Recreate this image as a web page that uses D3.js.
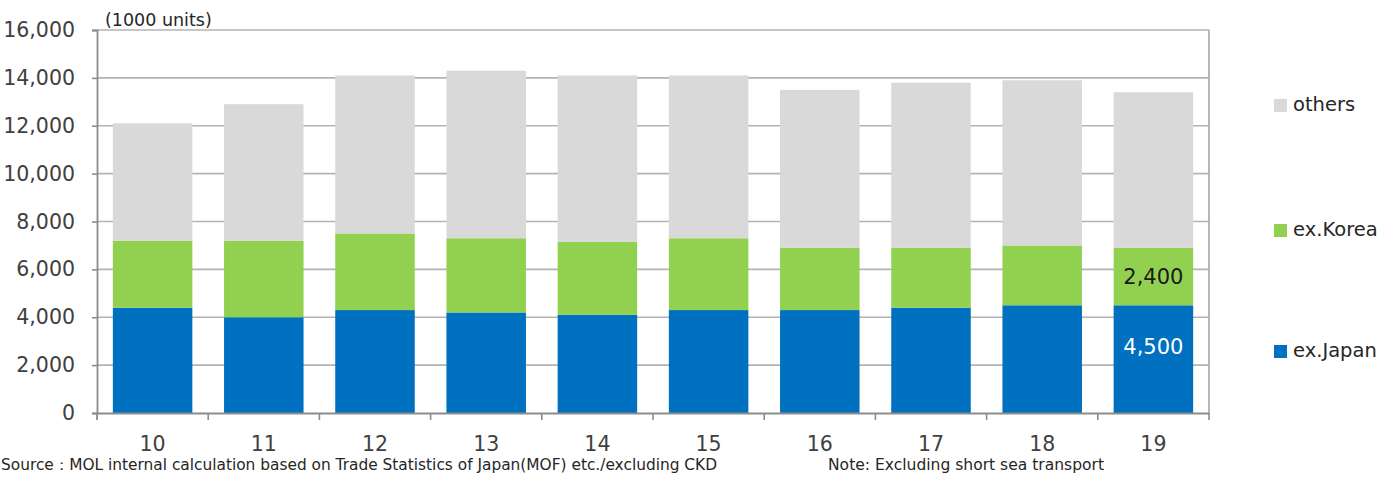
<!DOCTYPE html>
<html>
<head>
<meta charset="utf-8">
<script src="https://cdn.jsdelivr.net/npm/d3@7/dist/d3.min.js"></script>
<style>
  html, body { margin: 0; padding: 0; background: #fff; }
  svg { display: block; }
  text { font-family: "DejaVu Sans", Verdana, sans-serif; }
</style>
</head>
<body>
<svg id="chart" width="1397" height="477"></svg>
<script>
// Years (fiscal, two-digit)
const categories = ["10", "11", "12", "13", "14", "15", "16", "17", "18", "19"];
// Volumes in 1000 units
const exJapan = [4400, 4000, 4300, 4200, 4100, 4300, 4300, 4400, 4500, 4500];
const exKorea = [2800, 3200, 3200, 3100, 3050, 3000, 2600, 2500, 2500, 2400];
const others  = [4900, 5700, 6600, 7000, 6950, 6800, 6600, 6900, 6900, 6500];
const yTicks = [0, 2000, 4000, 6000, 8000, 10000, 12000, 14000, 16000];
const seriesNames = ["ex.Japan", "ex.Korea", "others"];
const seriesColors = ["#0070C0", "#92D050", "#D9D9D9"];

(function () {
const svg = d3.select("#chart");
const plotLeft = 97, plotRight = 1209, plotTop = 30, plotBottom = 413;

const x = d3.scaleBand().domain(categories).range([plotLeft, plotRight]).paddingInner(0.285).paddingOuter(0.1425);
const xEdge = d3.scaleBand().domain(categories).range([plotLeft, plotRight]);
const y = d3.scaleLinear().domain([0, 16000]).range([plotBottom, plotTop]);

// gridlines
svg.append("g").selectAll("line").data(yTicks.filter(t => t > 0)).join("line")
  .attr("x1", plotLeft).attr("x2", plotRight)
  .attr("y1", d => y(d)).attr("y2", d => y(d))
  .attr("stroke", "#b3b3b3").attr("stroke-width", 1.6);
// right border
svg.append("line").attr("x1", plotRight).attr("x2", plotRight).attr("y1", plotTop).attr("y2", plotBottom)
  .attr("stroke", "#a6a6a6").attr("stroke-width", 1.6);

// stacked bars
const rows = categories.map((c, i) => ({ cat: c, "ex.Japan": exJapan[i], "ex.Korea": exKorea[i], "others": others[i] }));
const stack = d3.stack().keys(seriesNames)(rows);
svg.append("g").selectAll("g").data(stack).join("g")
  .attr("fill", (d, i) => seriesColors[i])
  .selectAll("rect").data(d => d).join("rect")
  .attr("x", d => x(d.data.cat))
  .attr("width", x.bandwidth())
  .attr("y", d => y(d[1]))
  .attr("height", d => y(d[0]) - y(d[1]));

// left axis
const yAxis = svg.append("g").attr("transform", `translate(${plotLeft},0)`)
  .call(d3.axisLeft(y).tickValues(yTicks).tickFormat(d3.format(",")).tickSize(5).tickPadding(17));
yAxis.select(".domain").attr("stroke", "#8c8c8c").attr("stroke-width", 1.8);
yAxis.selectAll(".tick line").attr("stroke", "#8c8c8c").attr("stroke-width", 1.6);
yAxis.selectAll("text").attr("font-size", 20.5).attr("fill", "#404040")
  .attr("font-family", "DejaVu Sans, sans-serif");

// bottom axis with ticks at category boundaries
const xAxis = svg.append("g").attr("transform", `translate(0,${plotBottom})`)
  .call(d3.axisBottom(x).tickSize(0).tickPadding(23));
xAxis.select(".domain").attr("stroke", "#8c8c8c").attr("stroke-width", 1.8);
xAxis.selectAll("text").attr("font-size", 20.5).attr("fill", "#404040")
  .attr("font-family", "DejaVu Sans, sans-serif");
xAxis.append("g").selectAll("line").data(categories.slice(1).map(c => xEdge(c)).concat([plotRight])).join("line")
  .attr("x1", d => d).attr("x2", d => d).attr("y1", 0).attr("y2", 7)
  .attr("stroke", "#8c8c8c").attr("stroke-width", 1.6);
xAxis.append("line").attr("x1", plotLeft).attr("x2", plotLeft).attr("y1", 0).attr("y2", 7)
  .attr("stroke", "#8c8c8c").attr("stroke-width", 1.8);

// unit label
svg.append("text").attr("x", 105).attr("y", 26).attr("font-size", 17.5).attr("fill", "#262626")
  .text("(1000 units)");

// value labels on the last bar
const last = categories.length - 1;
const lastX = x(categories[last]) + x.bandwidth() / 2;
svg.append("text").attr("x", lastX).attr("y", y(exJapan[last] + exKorea[last] / 2)).attr("dy", "0.36em")
  .attr("text-anchor", "middle").attr("font-size", 21).attr("fill", "#1a1a1a")
  .text(d3.format(",")(exKorea[last]));
svg.append("text").attr("x", lastX).attr("y", y(exJapan[last] / 2) - 13).attr("dy", "0.36em")
  .attr("text-anchor", "middle").attr("font-size", 21).attr("fill", "#ffffff")
  .text(d3.format(",")(exJapan[last]));

// legend
const legendY = { "others": 104, "ex.Korea": 229, "ex.Japan": 350 };
const legend = svg.append("g");
seriesNames.forEach((name, i) => {
  const g = legend.append("g").attr("transform", `translate(1274,${legendY[name]})`);
  g.append("rect").attr("x", 0).attr("y", -5).attr("width", 13).attr("height", 13).attr("fill", seriesColors[i]);
  g.append("text").attr("x", 19).attr("y", 0).attr("dy", "0.36em").attr("font-size", 19.5).attr("fill", "#262626").text(name);
});

// footnotes
svg.append("text").attr("x", 1).attr("y", 470).attr("font-size", 15).attr("fill", "#262626")
  .attr("textLength", 716).attr("lengthAdjust", "spacingAndGlyphs")
  .text("Source：MOL internal calculation based on Trade Statistics of Japan(MOF) etc./excluding CKD");
svg.append("text").attr("x", 828).attr("y", 470).attr("font-size", 15).attr("fill", "#262626")
  .attr("textLength", 276).attr("lengthAdjust", "spacingAndGlyphs")
  .text("Note: Excluding short sea transport");
})();
</script>
</body>
</html>
